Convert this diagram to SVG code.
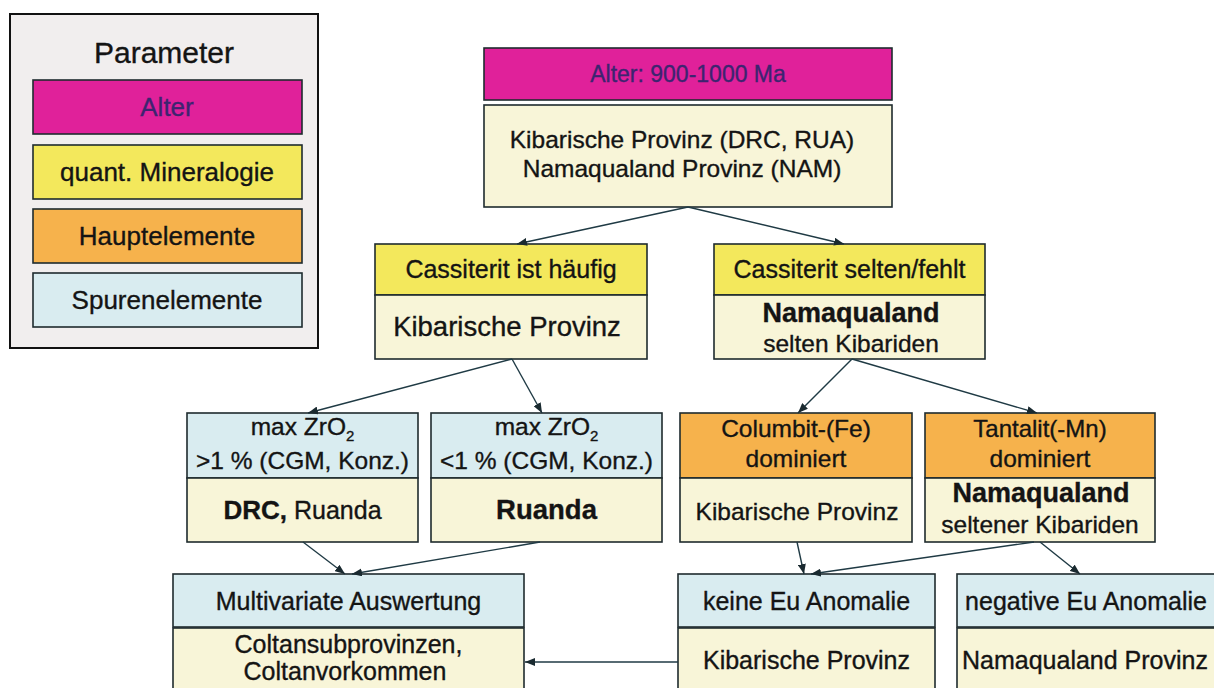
<svg xmlns="http://www.w3.org/2000/svg" width="1214" height="688" viewBox="0 0 1214 688">
<defs>
<style>
text{font-family:"Liberation Sans",Arial,sans-serif;text-anchor:middle;fill:#141414;stroke:#141414;stroke-width:0.35}
.bx{stroke:#1f2b2e;stroke-width:1.6}
.mag{fill:#e0219a}
.yel{fill:#f3e85c}
.ora{fill:#f6b24c}
.blu{fill:#d9ecf0}
.cre{fill:#f8f5d8}
.b{font-weight:bold}
text.alt{fill:#3d2470;stroke:#3d2470}
.con line{stroke:#1f3a44;stroke-width:1.4;marker-end:url(#ah)}
</style>
<marker id="ah" markerWidth="10" markerHeight="8" refX="10" refY="4" orient="auto" markerUnits="userSpaceOnUse">
<path d="M0,0 L10,4 L0,8 z" fill="#1a2a30"/>
</marker>
</defs>
<rect width="1214" height="688" fill="#ffffff"/>

<g id="legend">
<rect x="10" y="14" width="308" height="334" fill="#f1eeee" stroke="#111" stroke-width="2"/>
<text x="164" y="63" font-size="30">Parameter</text>
<rect class="bx mag" x="33" y="80" width="269" height="54"/>
<text class="alt" x="167" y="116" font-size="26">Alter</text>
<rect class="bx yel" x="33" y="145" width="269" height="54"/>
<text x="167" y="181" font-size="26">quant. Mineralogie</text>
<rect class="bx ora" x="33" y="209" width="269" height="54"/>
<text x="167" y="245" font-size="26">Hauptelemente</text>
<rect class="bx blu" x="33" y="273" width="269" height="54"/>
<text x="167" y="309" font-size="26">Spurenelemente</text>
</g>

<g id="n-top">
<rect class="bx mag" x="484" y="48" width="408" height="52"/>
<text class="alt" x="688" y="82" font-size="23">Alter: 900-1000 Ma</text>
<rect class="bx cre" x="484" y="105" width="408" height="102"/>
<text x="682" y="148" font-size="24.5">Kibarische Provinz (DRC, RUA)</text>
<text x="682" y="177" font-size="24.5">Namaqualand Provinz (NAM)</text>
</g>

<g id="n-cass-haeufig">
<rect class="bx yel" x="375" y="244" width="272" height="51"/>
<text x="511" y="278" font-size="25">Cassiterit ist häufig</text>
<rect class="bx cre" x="375" y="295" width="272" height="64"/>
<text x="507" y="336" font-size="27.5">Kibarische Provinz</text>
</g>

<g id="n-cass-selten">
<rect class="bx yel" x="714" y="244" width="271" height="51"/>
<text x="849.5" y="278" font-size="25">Cassiterit selten/fehlt</text>
<rect class="bx cre" x="714" y="295" width="271" height="64"/>
<text class="b" x="851" y="322" font-size="27">Namaqualand</text>
<text x="851" y="352" font-size="24.5">selten Kibariden</text>
</g>

<g id="n-zr-gt1">
<rect class="bx blu" x="187" y="413" width="231" height="65"/>
<text x="302.5" y="435" font-size="24.5">max ZrO<tspan font-size="15" dy="6">2</tspan></text>
<text x="302.5" y="469" font-size="24.5">&gt;1 % (CGM, Konz.)</text>
<rect class="bx cre" x="187" y="478" width="231" height="64"/>
<text x="302.5" y="519" font-size="25"><tspan class="b" font-size="26">DRC,</tspan> Ruanda</text>
</g>

<g id="n-zr-lt1">
<rect class="bx blu" x="431" y="413" width="231" height="65"/>
<text x="546.5" y="435" font-size="24.5">max ZrO<tspan font-size="15" dy="6">2</tspan></text>
<text x="546.5" y="469" font-size="24.5">&lt;1 % (CGM, Konz.)</text>
<rect class="bx cre" x="431" y="478" width="231" height="64"/>
<text class="b" x="546.5" y="519" font-size="27.5">Ruanda</text>
</g>

<g id="n-columbit">
<rect class="bx ora" x="680" y="413" width="232" height="65"/>
<text x="796" y="437" font-size="24.5">Columbit-(Fe)</text>
<text x="796" y="467" font-size="24.5">dominiert</text>
<rect class="bx cre" x="680" y="478" width="232" height="64"/>
<text x="797" y="520" font-size="24.5">Kibarische Provinz</text>
</g>

<g id="n-tantalit">
<rect class="bx ora" x="925" y="413" width="230" height="65"/>
<text x="1040" y="437" font-size="24">Tantalit(-Mn)</text>
<text x="1040" y="467" font-size="24.5">dominiert</text>
<rect class="bx cre" x="925" y="478" width="230" height="64"/>
<text class="b" x="1041" y="502" font-size="27">Namaqualand</text>
<text x="1040" y="533" font-size="24.5">seltener Kibariden</text>
</g>

<g id="n-multivariat">
<rect class="bx blu" x="173" y="574" width="351" height="53"/>
<text x="348.5" y="610" font-size="25">Multivariate Auswertung</text>
<rect class="bx cre" x="173" y="628" width="351" height="80"/>
<text x="348.5" y="653" font-size="25">Coltansubprovinzen,</text>
<text x="345" y="680" font-size="25">Coltanvorkommen</text>
</g>

<g id="n-keine-eu">
<rect class="bx blu" x="678" y="574" width="257" height="53"/>
<text x="806.5" y="610" font-size="25">keine Eu Anomalie</text>
<rect class="bx cre" x="678" y="628" width="257" height="80"/>
<text x="806.5" y="669" font-size="25">Kibarische Provinz</text>
</g>

<g id="n-negative-eu">
<rect class="bx blu" x="957" y="574" width="262" height="53"/>
<text x="1086" y="610" font-size="25">negative Eu Anomalie</text>
<rect class="bx cre" x="957" y="628" width="262" height="80"/>
<text x="1085" y="669" font-size="25">Namaqualand Provinz</text>
</g>

<g id="connectors" class="con">
<line x1="688" y1="207" x2="517" y2="244"/>
<line x1="688" y1="207" x2="844" y2="244"/>
<line x1="512" y1="359" x2="308" y2="413"/>
<line x1="512" y1="359" x2="542" y2="413"/>
<line x1="852" y1="359" x2="798" y2="413"/>
<line x1="852" y1="359" x2="1037" y2="413"/>
<line x1="303" y1="542" x2="345" y2="574"/>
<line x1="540" y1="542" x2="352" y2="574"/>
<line x1="797" y1="542" x2="804" y2="574"/>
<line x1="1034" y1="542" x2="811" y2="574"/>
<line x1="1040" y1="542" x2="1080" y2="574"/>
<line x1="678" y1="662" x2="525" y2="662"/>
</g>
</svg>
